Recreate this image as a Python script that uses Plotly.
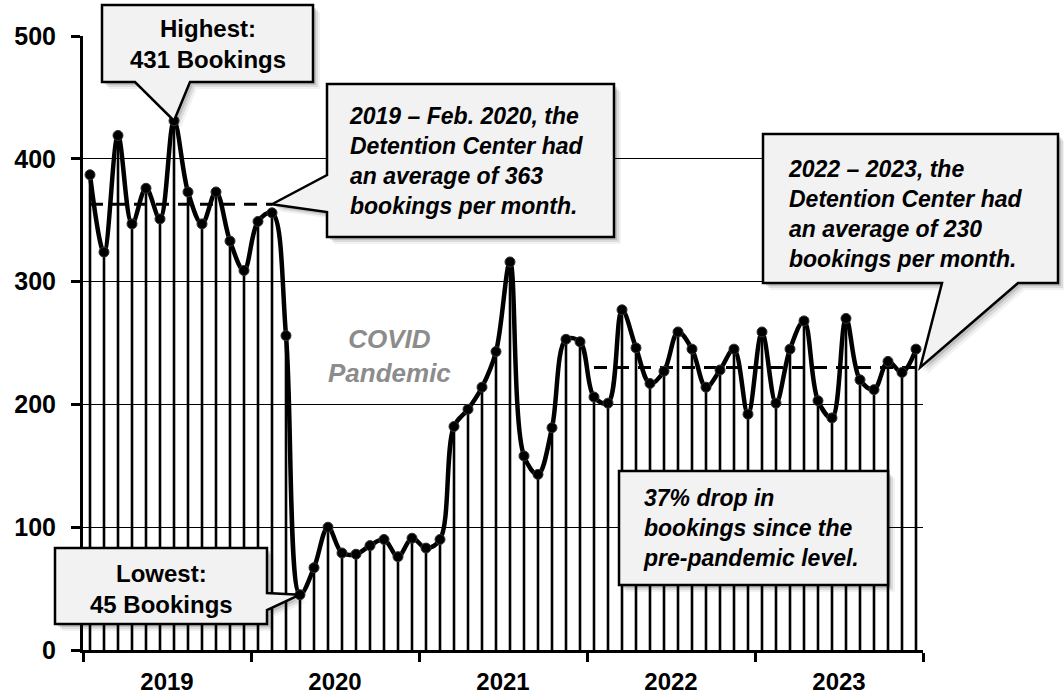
import plotly.graph_objects as go

# ---- data ----
years = ["2019", "2020", "2021", "2022", "2023"]
bookings = [
    387, 324, 419, 347, 376, 351, 431, 373, 347, 373, 333, 309,   # 2019
    349, 356, 256, 45, 67, 100, 79, 78, 85, 90, 76, 91,          # 2020
    83, 90, 182, 196, 214, 243, 316, 158, 143, 181, 253, 251,    # 2021
    206, 201, 277, 246, 217, 227, 259, 245, 214, 228, 245, 192,  # 2022
    259, 201, 245, 268, 203, 189, 270, 220, 212, 235, 226, 245,  # 2023
]
avg_pre = 363     # 2019 - Feb. 2020
avg_post = 230    # 2022 - 2023
pre_months = 14
post_start = 36

months = list(range(len(bookings)))
n = len(bookings)

# ---- layout geometry (pixels) ----
W, H = 1064, 700
L, R, T, B = 83, 923, 36, 650
YMAX = 500

def pxx(xp):
    return (xp - L) / (R - L)

def pxy(yp):
    return (B - yp) / (B - T)

def dx(xd):
    return (xd + 0.5) / n

def dy(yd):
    return yd / YMAX

FONT = "Liberation Sans, Arial, sans-serif"

fig = go.Figure()

# drop lines from each point to zero
fig.add_trace(go.Scatter(
    x=months, y=bookings, mode="markers",
    marker=dict(size=1, color="rgba(0,0,0,0)"),
    error_y=dict(type="data", symmetric=False, array=[0] * n,
                 arrayminus=bookings, thickness=2.6, width=0, color="black"),
    hoverinfo="skip", showlegend=False,
))

# average dashed lines
fig.add_trace(go.Scatter(
    x=[0, pre_months - 1], y=[avg_pre, avg_pre], mode="lines",
    line=dict(color="black", width=3, dash="13px,9px"),
    hoverinfo="skip", showlegend=False,
))
fig.add_trace(go.Scatter(
    x=[post_start, n - 0.7], y=[avg_post, avg_post], mode="lines",
    line=dict(color="black", width=3, dash="13px,9px"),
    hoverinfo="skip", showlegend=False,
))

# smoothed bookings line with markers
fig.add_trace(go.Scatter(
    x=months, y=bookings, mode="lines+markers",
    line=dict(color="black", width=4.5, shape="spline", smoothing=1.0),
    marker=dict(size=10, color="black", line=dict(color="#333333", width=1)),
    showlegend=False,
))

# ---- callouts ----
shapes = []

def callout(box, tail=None, shadow=True):
    x0, y0, x1, y1 = box  # px: left, top, right, bottom
    X0, X1 = pxx(x0), pxx(x1)
    Y0, Y1 = pxy(y0), pxy(y1)
    if tail is None:
        pts = [(X0, Y0), (X1, Y0), (X1, Y1), (X0, Y1)]
    else:
        edge, a, b, tip = tail
        if edge == "bottom":
            A, Bb = pxx(a), pxx(b)
            pts = [(X0, Y0), (X1, Y0), (X1, Y1), (Bb, Y1), tip, (A, Y1), (X0, Y1)]
        elif edge == "left":
            A, Bb = pxy(a), pxy(b)
            pts = [(X0, Y0), (X1, Y0), (X1, Y1), (X0, Y1), (X0, Bb), tip, (X0, A)]
        else:  # right
            A, Bb = pxy(a), pxy(b)
            pts = [(X0, Y0), (X1, Y0), (X1, A), tip, (X1, Bb), (X1, Y1), (X0, Y1)]

    def path(p, ox=0.0, oy=0.0):
        return "M " + " L ".join(f"{x + ox:.5f},{y + oy:.5f}" for x, y in p) + " Z"

    if shadow:
        for off, alpha in ((7, 0.05), (5, 0.09), (3, 0.13)):
            shapes.append(dict(type="path", xref="paper", yref="paper",
                               path=path(pts, off / (R - L), -off / (B - T)),
                               fillcolor=f"rgba(0,0,0,{alpha})",
                               line=dict(width=0), layer="above"))
    shapes.append(dict(type="path", xref="paper", yref="paper", path=path(pts),
                       fillcolor="#f2f2f2", line=dict(color="black", width=2.5),
                       layer="above"))

imax = bookings.index(max(bookings))
imin = bookings.index(min(bookings))

callout((102, 5, 313, 82), ("bottom", 135, 190, (dx(imax), dy(bookings[imax]))))
callout((327, 84, 614, 237), ("left", 175, 212, (dx(pre_months - 1), dy(avg_pre))))
callout((763, 134, 1058, 283), ("bottom", 942, 1018, (dx(n - 0.7), dy(avg_post))))
callout((619, 471, 888, 585))
callout((55, 548, 267, 624), ("right", 593, 610, (dx(imin), dy(bookings[imin]))))

annos = []

def text(xp, yp, s, anchor="left", size=23, color="black"):
    annos.append(dict(xref="paper", yref="paper", x=pxx(xp), y=pxy(yp),
                      xanchor=anchor, yanchor="middle", align=anchor,
                      text=s, showarrow=False,
                      font=dict(family=FONT, size=size, color=color)))

text(207.5, 44, f"<b>Highest:<br>{max(bookings)} Bookings</b>", anchor="center", size=24)
text(347, 161, f"<b><i>2019 – Feb. 2020, the<br>Detention Center had<br>"
               f"an average of {avg_pre}<br>bookings per month.</i></b>")
text(786, 214, f"<b><i>2022 – 2023, the<br>Detention Center had<br>"
               f"an average of {avg_post}<br>bookings per month.</i></b>")
text(641, 528, "<b><i>37% drop in<br>bookings since the<br>pre-pandemic level.</i></b>")
text(161, 589, f"<b>Lowest:<br>{min(bookings)} Bookings</b>", anchor="center", size=24)
text(389, 356, "<b><i>COVID<br>Pandemic</i></b>", anchor="center", size=26,
     color="#8c8c8c")

fig.update_layout(
    width=W, height=H,
    margin=dict(l=L, r=W - R, t=T, b=H - B, pad=0, autoexpand=False),
    paper_bgcolor="white", plot_bgcolor="white",
    font=dict(family=FONT, size=25, color="black"),
    shapes=shapes, annotations=annos,
    showlegend=False,
)

fig.update_xaxes(
    range=[-0.5, n - 0.5], automargin=False,
    tickvals=[5.5 + 12 * i for i in range(len(years))],
    ticktext=[f"<b>{y}</b>" for y in years],
    ticks="", showgrid=False, zeroline=False,
    showline=True, linecolor="black", linewidth=3,
    minor=dict(tick0=-0.5, dtick=12, ticks="outside", ticklen=9,
               tickwidth=2.5, tickcolor="black", showgrid=False),
    ticklabelstandoff=8,
    tickfont=dict(family=FONT, size=24, color="black"),
)
fig.update_yaxes(
    range=[0, YMAX], automargin=False,
    tickvals=[0, 100, 200, 300, 400, 500],
    ticktext=[f"<b>{v}</b>" for v in [0, 100, 200, 300, 400, 500]],
    showgrid=True, gridcolor="black", gridwidth=1,
    zeroline=False, showline=True, linecolor="black", linewidth=3,
    ticks="outside", ticklen=9, tickwidth=2.5, tickcolor="black",
    ticklabelstandoff=10,
    tickfont=dict(family=FONT, size=25, color="black"),
)

fig.write_html("out.html", config={"displayModeBar": False},
               post_script="document.body.style.margin='0';")
